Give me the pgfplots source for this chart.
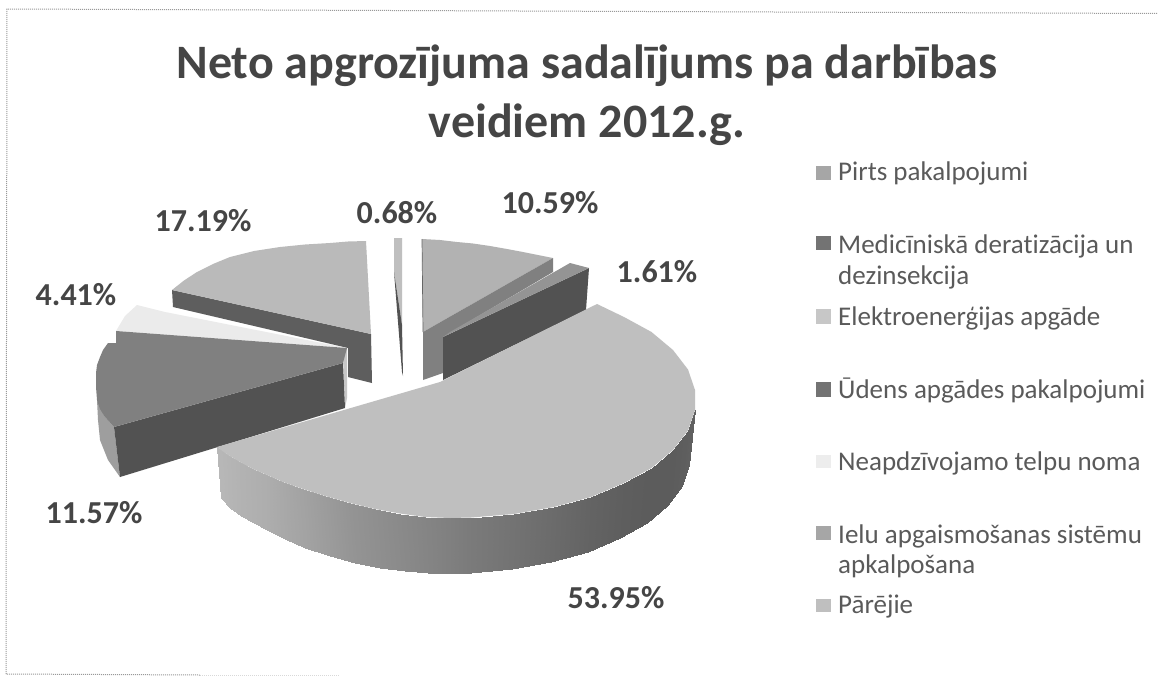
\documentclass[border=0pt]{standalone}
\usepackage{pgfplots}
\pgfplotsset{compat=1.18}
\usepackage{fontspec}
\setmainfont{Carlito}[Ligatures=NoCommon]
\definecolor{txt}{HTML}{454545}
\definecolor{legtxt}{HTML}{5A5A5A}
\newcommand{\face}[2]{\addplot[fill=black!#1,draw=none,forget plot] coordinates {#2} --cycle;}
\tikzset{
  legtext/.style={anchor=base west,font=\fontsize{27}{27}\selectfont,text=legtxt,inner sep=0pt},
  pct/.style={anchor=base,font=\bfseries\fontsize{32}{32}\selectfont,text=txt,inner sep=0pt},
  ttl/.style={anchor=base,font=\bfseries\fontsize{48}{48}\selectfont,text=txt,inner sep=0pt},
}
\begin{document}
\begin{tikzpicture}
\begin{axis}[
  scale only axis,
  width=1158pt,
  height=677pt,
  xmin=0,xmax=1158,
  ymin=0,ymax=677,
  y dir=reverse,
  hide axis,
  clip=true,
  colormap={gr}{color(0)=(black) color(1)=(white)},
  point meta min=0,
  point meta max=1,
]
% background and frame
\addplot[fill=white,draw=none] coordinates {(0,0) (1158,0) (1158,677) (0,677)} --cycle;
\addplot[draw=black!40,line width=1pt,densely dotted] coordinates {(1157,13.5) (7,9) (6,674) (200,675)};
\addplot[draw=black!15,line width=1pt,densely dotted] coordinates {(200,675) (340,675)};

% 4.41 slice
\face{8}{(116,331) (125,316) (137,305) (165,312) (347,348)}
\face{22}{(343,350) (347,348) (347,398) (345,408)}
% 17.19 slice
\face{63}{(172,290) (371,334) (372,383) (348,377) (348,348) (173,307)}
\face{27}{(172,290) (184,280.5) (197,272) (213,264) (230,257) (254,251) (280,247) (305,244.5) (330,243) (348,241.5) (366,241) (371,334)}
% 11.57 slice
\face{38}{(97,400) (98,420) (100,440) (108,460) (120,477) (114,427) (105,417)}
\face{68}{(114,427) (343,363) (345,408) (120,477)}
\face{50}{(116,331) (347,348) (343,363) (114,427) (105,417) (100,409) (97,400) (96,387) (96,373) (97,365) (100,357) (103,350) (108,343) (116,343)}
% 0.68 slice
\face{25}{(394,238) (402,238) (402,325) (394,272)}
\face{68}{(394,272) (402,325) (403,376) (402,372)}
% 10.59 slice
\face{30}{(422,239) (440,240) (457,242) (473,243.5) (490,246) (507,249) (523,252) (538,255) (553,258) (423,332)}
\face{50}{(423,332) (553,258) (553,272) (443,337) (443,373) (423,380)}
\addplot[draw=black!60,line width=0.7pt,forget plot] coordinates {(422,239) (423,332)};
% 1.61 slice
\face{68}{(589,268) (586,310) (443,380) (443,337)}
\face{42}{(570,263) (589,268) (443,337) (450,332)}
% 53.95 slice, side first
\addplot[patch,patch type=rectangle,shader=interp,point meta=explicit,forget plot] coordinates {
 (217,447) [.72] (221,498) [.72] (230,508) [.71] (228,455) [.71]
 (228,455) [.71] (230,508) [.71] (241,516) [.70] (240,462) [.70]
 (240,462) [.70] (241,516) [.70] (254,523) [.69] (253,469) [.69]
 (253,469) [.69] (254,523) [.69] (267,530) [.68] (267,475) [.68]
 (267,475) [.68] (267,530) [.68] (285,539) [.66] (283,482) [.66]
 (283,482) [.66] (285,539) [.66] (305,548) [.64] (300,488) [.64]
 (300,488) [.64] (305,548) [.64] (330,556) [.61] (325,496) [.61]
 (325,496) [.61] (330,556) [.61] (355,563) [.58] (350,503) [.58]
 (350,503) [.58] (355,563) [.58] (380,568) [.56] (375,509) [.56]
 (375,509) [.56] (380,568) [.56] (405,571) [.54] (400,513.5) [.54]
 (400,513.5) [.54] (405,571) [.54] (428,572.5) [.52] (425,517) [.52]
 (425,517) [.52] (428,572.5) [.52] (450,573) [.50] (450,518) [.50]
 (450,518) [.50] (450,573) [.50] (471,572.5) [.48] (471,517.5) [.48]
 (471,517.5) [.48] (471,572.5) [.48] (512,569) [.45] (514,514) [.45]
 (514,514) [.45] (512,569) [.45] (551,562) [.42] (554,507) [.42]
 (554,507) [.42] (551,562) [.42] (588,552) [.39] (591,497) [.39]
 (591,497) [.39] (588,552) [.39] (620,538) [.37] (624,483) [.37]
 (624,483) [.37] (620,538) [.37] (647,523) [.36] (651.5,468) [.36]
 (651.5,468) [.36] (647,523) [.36] (667.5,505) [.36] (673,450) [.36]
 (673,450) [.36] (667.5,505) [.36] (682,485.5) [.37] (688,430.5) [.37]
 (688,430.5) [.37] (682,485.5) [.37] (689,465) [.38] (695,410) [.38]
};
\face{25}{(440,382) (597,304) (624,317) (651.5,332) (673,350) (688,369.5) (695,390) (695,410) (688,430.5) (673,450) (651.5,468) (624,483) (591,497) (554,507) (514,514) (471,517.5) (450,518) (425,517) (400,513.5) (375,509) (350,503) (325,496) (300,488) (283,482) (267,475) (253,469) (240,462) (228,455) (217,447)}

% legend swatches
\face{35}{(816,166) (831,166) (831,180) (816,180)}
\face{55}{(816,236) (831,236) (831,250) (816,250)}
\face{22}{(816,309) (831,309) (831,324) (816,324)}
\face{55}{(816,382) (831,382) (831,397) (816,397)}
\face{7}{(816,455) (831,455) (831,468) (816,468)}
\face{35}{(816,526) (831,526) (831,540) (816,540)}
\face{25}{(816,599) (831,599) (831,612) (816,612)}

% title
\node[ttl] at (axis cs:587,78) {Neto apgrozījuma sadalījums pa darbības};
\node[ttl] at (axis cs:587,137) {veidiem 2012.g.};
% data labels
\node[pct] at (axis cs:550,213) {10.59\%};
\node[pct] at (axis cs:397,223) {0.68\%};
\node[pct] at (axis cs:203,231) {17.19\%};
\node[pct] at (axis cs:657,282) {1.61\%};
\node[pct] at (axis cs:76,305) {4.41\%};
\node[pct] at (axis cs:94,523) {11.57\%};
\node[pct] at (axis cs:616,608) {53.95\%};
% legend
\node[legtext] at (axis cs:838,180) {Pirts pakalpojumi};
\node[legtext] at (axis cs:838,253) {Medicīniskā deratizācija un};
\node[legtext] at (axis cs:838,284) {dezinsekcija};
\node[legtext] at (axis cs:838,325) {Elektroenerģijas apgāde};
\node[legtext] at (axis cs:838,398) {Ūdens apgādes pakalpojumi};
\node[legtext] at (axis cs:838,470) {Neapdzīvojamo telpu noma};
\node[legtext] at (axis cs:838,543) {Ielu apgaismošanas sistēmu};
\node[legtext] at (axis cs:838,573) {apkalpošana};
\node[legtext] at (axis cs:838,613) {Pārējie};
\end{axis}
\end{tikzpicture}
\end{document}
